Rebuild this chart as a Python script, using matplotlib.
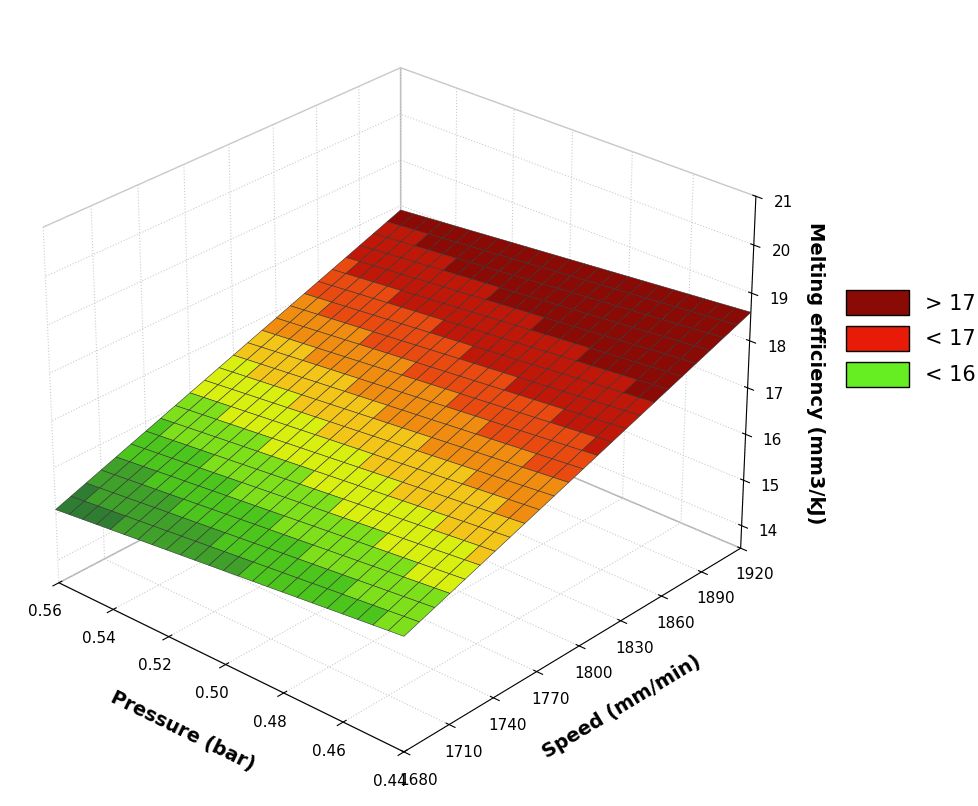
import numpy as np
import matplotlib
matplotlib.use("Agg")
import matplotlib.pyplot as plt
from matplotlib.colors import ListedColormap, BoundaryNorm
from matplotlib.patches import Patch

pressure = np.linspace(0.44, 0.56, 25)
speed = np.linspace(1680, 1920, 25)
# corner values
z_p044_s1680 = 15.9
z_p056_s1680 = 15.1
z_p044_s1920 = 18.6
z_p056_s1920 = 17.9
levels = [13, 15.3, 15.6, 15.9, 16.2, 16.5, 16.8, 17.1, 17.4, 17.8, 22]
colors = ["#2e7d32", "#3fa02a", "#4cc51c", "#7de01a", "#d8ef10", "#f2c518",
          "#f08c10", "#e84a10", "#c01808", "#8a0a05"]
legend_labels = ["> 17", "< 17", "< 16"]
legend_colors = ["#8a0a05", "#e81a08", "#66ee22"]

P, S = np.meshgrid(pressure, speed)
u = (P - 0.44) / 0.12
v = (S - 1680) / 240
Z = (z_p044_s1680 * (1 - u) * (1 - v) + z_p056_s1680 * u * (1 - v)
     + z_p044_s1920 * (1 - u) * v + z_p056_s1920 * u * v)

cmap = ListedColormap(colors)
norm = BoundaryNorm(levels, cmap.N)
Zc = (Z[:-1, :-1] + Z[1:, 1:] + Z[1:, :-1] + Z[:-1, 1:]) / 4
fc = cmap(norm(Zc))

fig = plt.figure(figsize=(9.79, 8.06), dpi=100)
ax = fig.add_axes([0.0, 0.0, 0.8, 1.0], projection="3d")
ax.plot_surface(P, S, Z, facecolors=fc, edgecolor="#333333", linewidth=0.4,
                shade=False, antialiased=True)
ax.set_xlim(0.44, 0.56)
ax.set_ylim(1680, 1920)
ax.set_zlim(13.5, 21)
ax.invert_xaxis()
ax.set_xticks([0.44, 0.46, 0.48, 0.50, 0.52, 0.54, 0.56])
ax.set_xticklabels(["0.44", "0.46", "0.48", "0.50", "0.52", "0.54", "0.56"])
ax.set_yticks(np.arange(1680, 1921, 30))
ax.set_zticks(np.arange(14, 22, 1))
ax.view_init(elev=28, azim=-48)
ax.set_box_aspect((1, 1.1, 0.85))
for a in (ax.xaxis, ax.yaxis, ax.zaxis):
    a.pane.fill = False
    a.pane.set_edgecolor("#999999")
    a._axinfo["grid"]["color"] = "#cccccc"
    a._axinfo["grid"]["linestyle"] = ":"
ax.tick_params(labelsize=11)
ax.set_xlabel("Pressure (bar)", fontsize=14, fontweight="bold", labelpad=14)
ax.set_ylabel("Speed (mm/min)", fontsize=14, fontweight="bold", labelpad=14)
ax.set_zlabel("Melting efficiency (mm3/kJ)", fontsize=14, fontweight="bold", labelpad=8)
ax.zaxis.set_rotate_label(False)
ax.zaxis.label.set_rotation(-90)

handles = [Patch(facecolor=c, edgecolor="black", label=l)
           for c, l in zip(legend_colors, legend_labels)]
fig.legend(handles=handles, loc="center left", bbox_to_anchor=(0.845, 0.58),
           frameon=False, fontsize=15, handlelength=3.0, handleheight=1.5)
fig.savefig("out.png", dpi=100)
